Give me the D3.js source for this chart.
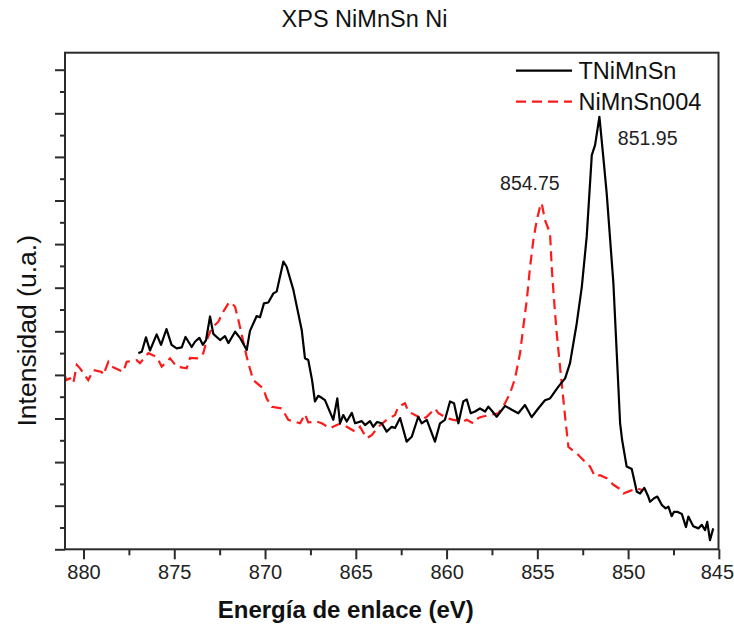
<!DOCTYPE html>
<html>
<head>
<meta charset="utf-8">
<script src="https://cdn.jsdelivr.net/npm/d3@7"></script>
<style>
  html, body { margin: 0; padding: 0; background: #fff; }
  svg { display: block; font-family: "Liberation Sans", Arial, sans-serif; }
</style>
</head>
<body>
<svg id="chart" width="734" height="625"></svg>
<script>
// ---- Data (binding energy in eV, intensity in arbitrary units) ----
const seriesNames = ["TNiMnSn", "NiMnSn004"];

const energyT = [876.98,876.79,876.56,876.34,875.97,875.73,875.43,875.15,874.87,874.59,874.38,874.04,873.86,873.62,873.43,873.25,873.03,872.85,872.48,872.21,872.02,871.65,871.38,871.01,870.83,870.46,870.28,870.06,869.82,869.54,869.36,868.99,868.81,868.44,867.98,867.80,867.62,867.41,867.25,867.07,866.86,866.70,866.24,866.02,865.87,865.69,865.50,865.22,865.04,864.67,864.49,864.22,864.04,863.83,863.57,863.30,863.02,862.84,862.56,862.20,861.92,861.56,861.37,861.09,860.64,860.36,860.09,859.81,859.59,859.35,859.08,858.89,858.67,858.43,858.16,857.88,857.70,857.55,857.24,856.78,856.41,856.05,855.68,855.31,854.95,854.58,854.30,853.84,853.47,853.20,852.83,852.55,852.28,852.00,851.82,851.58,851.36,851.18,850.81,850.44,850.33,850.08,849.80,849.52,849.34,849.11,848.89,848.79,848.57,848.39,848.15,847.93,847.78,847.60,847.47,847.29,847.04,846.81,846.68,846.41,846.13,845.94,845.76,845.64,845.49,845.31];
const intensityT = [4.50,4.53,4.86,4.56,4.93,4.69,5.05,4.69,4.61,4.63,4.87,4.64,4.76,4.85,4.69,4.80,5.34,4.94,4.80,4.89,4.73,4.99,4.85,4.57,5.01,5.35,5.32,5.64,5.66,5.87,5.91,6.60,6.48,5.95,5.03,4.38,4.34,3.88,3.39,3.52,3.47,3.42,2.97,3.46,2.89,3.08,2.93,3.13,2.89,2.94,2.85,2.94,2.81,2.92,2.89,2.70,2.81,2.78,3.01,2.47,2.58,3.04,2.89,2.97,2.47,2.89,2.97,3.39,3.35,2.89,3.39,3.44,3.12,3.16,3.23,3.16,3.27,3.20,3.04,3.29,3.20,3.12,3.31,3.03,3.23,3.42,3.46,3.73,3.92,4.27,5.18,6.02,7.17,9.04,9.27,9.92,8.97,8.17,6.10,2.89,2.51,1.90,1.84,1.32,1.28,1.41,1.21,1.09,1.17,1.21,1.02,0.94,0.98,0.76,0.86,0.86,0.81,0.51,0.75,0.53,0.48,0.56,0.44,0.63,0.21,0.48];

const energyN = [881.02,880.96,880.74,880.56,880.37,880.19,879.74,879.46,879.00,878.91,878.63,878.45,877.81,877.62,877.07,876.89,876.43,876.24,875.97,875.69,875.23,874.87,874.32,874.13,873.68,873.40,873.21,872.94,872.57,872.30,872.02,871.87,871.65,871.47,871.28,871.10,870.92,870.65,870.10,869.91,869.63,869.08,868.72,868.07,867.80,867.62,867.15,866.88,866.42,866.05,865.78,865.50,865.04,864.77,864.40,864.12,863.76,863.30,862.84,862.66,862.29,862.11,861.56,861.37,861.09,860.64,860.45,859.99,859.63,859.08,858.89,858.53,858.25,858.06,857.61,857.15,856.78,856.50,856.23,855.95,855.77,855.58,855.40,855.22,855.03,854.85,854.76,854.58,854.30,854.21,854.08,853.93,853.75,853.47,853.29,852.83,852.47,852.10,851.82,851.55,851.18,850.81,850.44,850.26,849.89,849.52,849.23];
const intensityN = [3.98,3.88,3.92,3.81,4.23,4.15,3.88,4.11,4.07,4.00,4.30,4.19,4.07,4.30,4.34,4.27,4.50,4.46,4.41,4.19,4.38,4.19,4.15,4.39,4.38,4.50,4.80,5.07,5.22,5.45,5.64,5.67,5.56,5.26,4.92,4.57,4.27,3.88,3.69,3.46,3.27,3.23,2.97,2.89,3.10,2.91,2.93,2.89,2.78,2.85,2.89,2.81,2.70,2.81,2.55,2.62,2.81,2.97,3.08,3.27,3.35,3.16,3.04,2.97,3.04,3.23,3.12,3.01,2.97,2.93,2.97,2.89,3.01,3.04,3.08,3.12,3.35,3.58,3.92,4.50,5.11,5.72,6.48,7.09,7.55,7.86,7.94,7.55,7.25,6.48,5.72,4.95,4.19,3.04,2.35,2.20,2.05,1.90,1.67,1.70,1.63,1.48,1.38,1.28,1.34,1.40,1.36];

const xMajorTicks = [880, 875, 870, 865, 860, 855, 850, 845];
const xMinorTicks = [877.5, 872.5, 867.5, 862.5, 857.5, 852.5, 847.5];
const yMajorTicks = [0,1,2,3,4,5,6,7,8,9,10,11];
const yMinorTicks = [0.5,1.5,2.5,3.5,4.5,5.5,6.5,7.5,8.5,9.5,10.5];

const peakLabels = [
  { energy: 854.75, intensity: 7.94, text: "854.75", dx: -12, dy: -13 },
  { energy: 851.95, intensity: 9.92, text: "851.95", dx: 55, dy: 28.3 }
];

// ---- Layout ----
const W = 734, H = 625;
const margin = { top: 52.7, right: 15.5, bottom: 75.7, left: 65 };
const iw = W - margin.left - margin.right;
const ih = H - margin.top - margin.bottom;

const svg = d3.select("#chart");
const g = svg.append("g").attr("transform", `translate(${margin.left},${margin.top})`);

const x = d3.scaleLinear().domain([881.02, 845.02]).range([0, iw]);
const y = d3.scaleLinear().domain([0, 11.39]).range([ih, 0]);

const axisColor = "#2b2b2b";

// Clip
svg.append("defs").append("clipPath").attr("id", "clip")
  .append("rect").attr("width", iw).attr("height", ih);

// Title
svg.append("text")
  .attr("x", 364.5).attr("y", 26.5)
  .attr("text-anchor", "middle")
  .attr("font-size", 23.5)
  .attr("fill", "#111")
  .text("XPS NiMnSn Ni");

// Lines
const lineT = d3.line().x((d, i) => x(energyT[i])).y((d, i) => y(intensityT[i]));
const lineN = d3.line().x((d, i) => x(energyN[i])).y((d, i) => y(intensityN[i]));

const plot = g.append("g").attr("clip-path", "url(#clip)");
plot.append("path")
  .attr("d", lineN(energyN))
  .attr("fill", "none")
  .attr("stroke", "#ff1a1a")
  .attr("stroke-width", 2.2)
  .attr("stroke-dasharray", "10,6");
plot.append("path")
  .attr("d", lineT(energyT))
  .attr("fill", "none")
  .attr("stroke", "#000")
  .attr("stroke-width", 2.2)
  .attr("stroke-linejoin", "round");

// Frame
g.append("rect")
  .attr("width", iw).attr("height", ih)
  .attr("fill", "none")
  .attr("stroke", axisColor)
  .attr("stroke-width", 2);

// X axis
const xAxis = d3.axisBottom(x).tickValues(xMajorTicks).tickSize(10).tickPadding(6).tickFormat(d3.format("d"));
const xa = g.append("g").attr("transform", `translate(0,${ih})`).call(xAxis);
xa.select(".domain").remove();
xa.selectAll(".tick line").attr("stroke", axisColor).attr("stroke-width", 2);
xa.selectAll(".tick text").attr("font-size", 20).attr("fill", "#222")
  .attr("font-family", "'Liberation Sans', Arial, sans-serif")
  .attr("dx", d => d === 845 ? -2 : 0);

const xMinor = d3.axisBottom(x).tickValues(xMinorTicks).tickSize(6).tickFormat("");
const xm = g.append("g").attr("transform", `translate(0,${ih})`).call(xMinor);
xm.select(".domain").remove();
xm.selectAll(".tick line").attr("stroke", axisColor).attr("stroke-width", 2);

// Y axis (ticks only, no labels)
const yAxis = d3.axisLeft(y).tickValues(yMajorTicks).tickSize(10).tickFormat("");
const ya = g.append("g").call(yAxis);
ya.select(".domain").remove();
ya.selectAll(".tick line").attr("stroke", axisColor).attr("stroke-width", 2);

const yMinor = d3.axisLeft(y).tickValues(yMinorTicks).tickSize(5).tickFormat("");
const ym = g.append("g").call(yMinor);
ym.select(".domain").remove();
ym.selectAll(".tick line").attr("stroke", axisColor).attr("stroke-width", 2);

// Axis titles
svg.append("text")
  .attr("x", 345.8).attr("y", 618)
  .attr("text-anchor", "middle")
  .attr("font-size", 24)
  .attr("font-weight", "bold")
  .attr("fill", "#111")
  .text("Energía de enlace (eV)");

svg.append("text")
  .attr("transform", "translate(36,330.8) rotate(-90)")
  .attr("text-anchor", "middle")
  .attr("font-size", 26.5)
  .attr("fill", "#111")
  .text("Intensidad (u.a.)");

// Peak annotations
g.selectAll(".peak").data(peakLabels).enter().append("text")
  .attr("class", "peak")
  .attr("x", d => x(d.energy) + d.dx)
  .attr("y", d => y(d.intensity) + d.dy)
  .attr("text-anchor", "middle")
  .attr("font-size", 19.5)
  .attr("fill", "#222")
  .text(d => d.text);

// Legend
const legend = svg.append("g");
const legendItems = [
  { name: seriesNames[0], color: "#000", dash: null, y: 70.7 },
  { name: seriesNames[1], color: "#ff1a1a", dash: "10,6", y: 101.7 }
];
legendItems.forEach(it => {
  legend.append("line")
    .attr("x1", 516).attr("x2", 572)
    .attr("y1", it.y).attr("y2", it.y)
    .attr("stroke", it.color)
    .attr("stroke-width", 2.2)
    .attr("stroke-dasharray", it.dash);
  legend.append("text")
    .attr("x", 578.5).attr("y", it.y + 8.6)
    .attr("font-size", 23.5)
    .attr("fill", "#111")
    .text(it.name);
});
</script>
</body>
</html>
